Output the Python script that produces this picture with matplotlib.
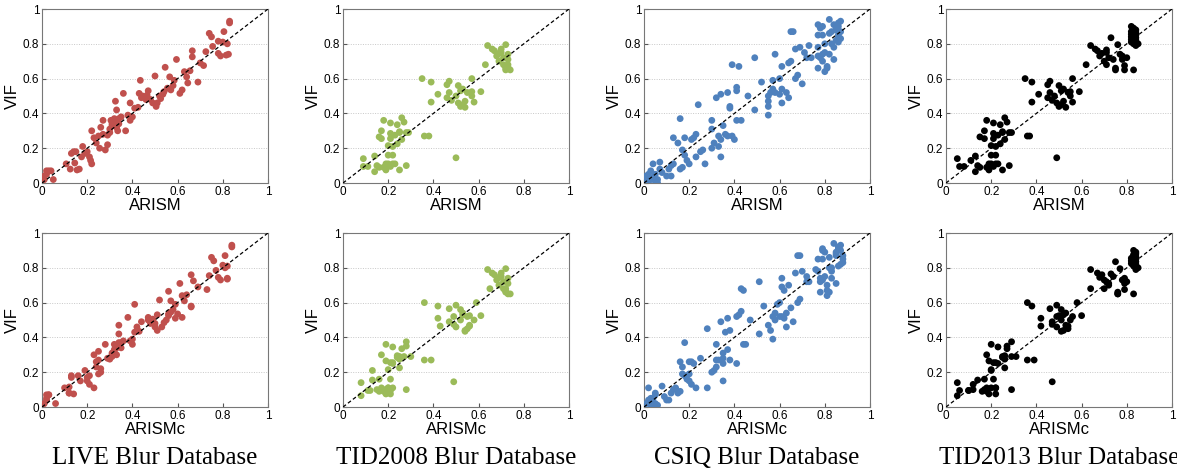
import matplotlib
matplotlib.use("Agg")
import matplotlib.pyplot as plt

# ---- data (VIF shared per database, two predictors) ----
live_vif = [0.00, 0.02, 0.04, 0.05, 0.07, 0.07, 0.07, 0.02,
            0.11, 0.08, 0.17, 0.18, 0.18, 0.115, 0.075, 0.08, 0.15, 0.21, 0.17, 0.18,
            0.15, 0.13, 0.11, 0.30, 0.26, 0.23, 0.27, 0.20, 0.32, 0.36, 0.28, 0.19,
            0.22, 0.275, 0.31, 0.36, 0.34, 0.37, 0.47, 0.42, 0.32, 0.30, 0.37, 0.38,
            0.515, 0.30, 0.39, 0.46, 0.36, 0.38, 0.43, 0.435, 0.59, 0.515, 0.49, 0.50,
            0.48, 0.505, 0.53, 0.48, 0.46, 0.615, 0.44, 0.46, 0.50, 0.485, 0.51, 0.525,
            0.665, 0.545, 0.61, 0.535, 0.56, 0.59, 0.71, 0.515, 0.535, 0.64, 0.61, 0.575,
            0.645, 0.725, 0.76, 0.58, 0.69, 0.675, 0.755, 0.86, 0.84, 0.785, 0.745, 0.815,
            0.73, 0.81, 0.87, 0.735, 0.80, 0.74, 0.93, 0.92, 0.35, 0.33, 0.29, 0.34]
live_arism = [0.00, 0.01, 0.01, 0.02, 0.02, 0.03, 0.04, 0.05,
              0.107, 0.125, 0.13, 0.14, 0.15, 0.145, 0.155, 0.165, 0.175, 0.18, 0.19, 0.20,
              0.21, 0.215, 0.22, 0.22, 0.23, 0.24, 0.25, 0.255, 0.26, 0.27, 0.27, 0.28,
              0.29, 0.29, 0.30, 0.305, 0.31, 0.32, 0.325, 0.33, 0.33, 0.335, 0.34, 0.35,
              0.36, 0.37, 0.38, 0.39, 0.39, 0.40, 0.41, 0.425, 0.435, 0.43, 0.44, 0.445,
              0.46, 0.465, 0.47, 0.48, 0.49, 0.50, 0.505, 0.51, 0.52, 0.525, 0.535, 0.54,
              0.545, 0.555, 0.565, 0.57, 0.58, 0.585, 0.595, 0.61, 0.62, 0.63, 0.64, 0.645,
              0.655, 0.665, 0.665, 0.69, 0.70, 0.715, 0.725, 0.74, 0.75, 0.755, 0.78, 0.78,
              0.79, 0.80, 0.805, 0.815, 0.82, 0.825, 0.83, 0.83, 0.32, 0.31, 0.30, 0.34]
live_arismc = [0.00, 0.01, 0.02, 0.02, 0.03, 0.03, 0.02, 0.06,
               0.10, 0.12, 0.13, 0.13, 0.16, 0.12, 0.14, 0.12, 0.17, 0.19, 0.20, 0.21,
               0.20, 0.21, 0.23, 0.23, 0.24, 0.24, 0.25, 0.26, 0.25, 0.28, 0.29, 0.25,
               0.26, 0.30, 0.31, 0.32, 0.33, 0.34, 0.34, 0.34, 0.32, 0.33, 0.35, 0.36,
               0.38, 0.31, 0.40, 0.42, 0.40, 0.39, 0.41, 0.43, 0.41, 0.47, 0.44, 0.47,
               0.50, 0.49, 0.51, 0.48, 0.50, 0.52, 0.51, 0.53, 0.55, 0.54, 0.59, 0.56,
               0.56, 0.57, 0.57, 0.56, 0.58, 0.59, 0.61, 0.62, 0.60, 0.62, 0.63, 0.66,
               0.64, 0.67, 0.66, 0.66, 0.69, 0.73, 0.74, 0.75, 0.76, 0.77, 0.78, 0.80,
               0.79, 0.82, 0.81, 0.82, 0.81, 0.82, 0.84, 0.84, 0.33, 0.32, 0.31, 0.35]

tid08_vif = [0.14, 0.095, 0.095, 0.155, 0.065, 0.10, 0.265, 0.09, 0.255, 0.30,
             0.36, 0.09, 0.11, 0.075, 0.215, 0.16, 0.11, 0.255, 0.345, 0.285,
             0.21, 0.11, 0.16, 0.275, 0.11, 0.225, 0.335, 0.295, 0.075, 0.29,
             0.25, 0.375, 0.35, 0.10, 0.29, 0.29, 0.10, 0.095,
             0.60, 0.27, 0.27, 0.58, 0.465, 0.51, 0.565, 0.49, 0.52, 0.585,
             0.475, 0.50, 0.145, 0.46, 0.56, 0.44, 0.53, 0.45, 0.54, 0.47,
             0.435, 0.52, 0.50, 0.525, 0.60, 0.465, 0.525,
             0.68, 0.79, 0.77, 0.76, 0.73, 0.745, 0.70, 0.77, 0.75, 0.72,
             0.68, 0.795, 0.66, 0.65, 0.74, 0.71, 0.68, 0.65, 0.665]
tid08_arism = [0.09, 0.09, 0.11, 0.14, 0.14, 0.15, 0.16, 0.16, 0.17, 0.17,
               0.18, 0.18, 0.19, 0.19, 0.20, 0.20, 0.20, 0.21, 0.21, 0.21,
               0.22, 0.22, 0.22, 0.23, 0.23, 0.24, 0.24, 0.25, 0.25, 0.25,
               0.26, 0.26, 0.27, 0.28, 0.28, 0.29, 0.19, 0.21,
               0.35, 0.36, 0.38, 0.39, 0.39, 0.42, 0.46, 0.46, 0.47, 0.47,
               0.48, 0.50, 0.50, 0.51, 0.51, 0.52, 0.52, 0.53, 0.53, 0.54,
               0.54, 0.55, 0.57, 0.57, 0.57, 0.58, 0.61,
               0.63, 0.64, 0.66, 0.67, 0.68, 0.69, 0.69, 0.70, 0.70, 0.71,
               0.71, 0.72, 0.72, 0.72, 0.73, 0.73, 0.73, 0.74, 0.73]
tid08_arismc = [0.08, 0.12, 0.11, 0.13, 0.08, 0.15, 0.19, 0.18, 0.21, 0.17,
                0.19, 0.16, 0.20, 0.19, 0.20, 0.16, 0.22, 0.22, 0.22, 0.24,
                0.13, 0.17, 0.21, 0.25, 0.20, 0.25, 0.26, 0.24, 0.21, 0.27,
                0.22, 0.28, 0.28, 0.28, 0.25, 0.30, 0.18, 0.21,
                0.36, 0.36, 0.39, 0.42, 0.43, 0.42, 0.47, 0.47, 0.49, 0.50,
                0.49, 0.52, 0.49, 0.50, 0.52, 0.54, 0.53, 0.55, 0.53, 0.56,
                0.54, 0.55, 0.58, 0.56, 0.59, 0.56, 0.61,
                0.65, 0.64, 0.66, 0.67, 0.68, 0.69, 0.69, 0.70, 0.70, 0.71,
                0.71, 0.72, 0.72, 0.73, 0.73, 0.73, 0.72, 0.74, 0.72]

csiq_vif = [0.00, 0.02, 0.04, 0.01, 0.05, 0.02, 0.07, 0.11, 0.03, 0.01,
            0.05, 0.02, 0.00, 0.12, 0.08, 0.06, 0.04, 0.08, 0.04, 0.10,
            0.26, 0.11, 0.23, 0.37, 0.08, 0.09, 0.19, 0.16, 0.26, 0.13,
            0.11, 0.25, 0.26, 0.28, 0.15, 0.45, 0.18, 0.19, 0.11, 0.36,
            0.20, 0.31, 0.23, 0.49, 0.27, 0.21, 0.51, 0.25, 0.15, 0.33,
            0.28, 0.27, 0.52, 0.43, 0.44, 0.27, 0.68, 0.25, 0.53, 0.55,
            0.36, 0.67, 0.36, 0.50, 0.72, 0.42, 0.58, 0.39, 0.44, 0.47,
            0.50, 0.52, 0.59, 0.54, 0.74, 0.52, 0.51, 0.60, 0.54, 0.46,
            0.67, 0.52, 0.69, 0.49, 0.70, 0.87, 0.87, 0.77, 0.60, 0.62,
            0.78, 0.57, 0.75, 0.72, 0.79, 0.72, 0.91, 0.85, 0.78, 0.73,
            0.66, 0.89, 0.72, 0.90, 0.85, 0.74, 0.70, 0.75, 0.64, 0.80,
            0.67, 0.66, 0.94, 0.86, 0.74, 0.87, 0.80, 0.78, 0.71, 0.91,
            0.88, 0.82, 0.92, 0.90, 0.85, 0.81, 0.93, 0.87, 0.83, 0.89]
csiq_arism = [0.00, 0.01, 0.01, 0.02, 0.02, 0.03, 0.03, 0.04, 0.04, 0.05,
              0.05, 0.06, 0.06, 0.07, 0.07, 0.08, 0.10, 0.11, 0.12, 0.12,
              0.13, 0.13, 0.15, 0.16, 0.16, 0.17, 0.17, 0.18, 0.18, 0.19,
              0.20, 0.21, 0.22, 0.23, 0.23, 0.24, 0.25, 0.26, 0.27, 0.30,
              0.30, 0.30, 0.31, 0.32, 0.33, 0.33, 0.34, 0.34, 0.34, 0.35,
              0.36, 0.37, 0.37, 0.38, 0.38, 0.39, 0.39, 0.40, 0.41, 0.41,
              0.41, 0.42, 0.43, 0.46, 0.49, 0.49, 0.52, 0.55, 0.55, 0.55,
              0.55, 0.56, 0.57, 0.57, 0.58, 0.58, 0.60, 0.60, 0.61, 0.61,
              0.61, 0.63, 0.64, 0.64, 0.65, 0.65, 0.66, 0.67, 0.67, 0.68,
              0.69, 0.70, 0.71, 0.72, 0.73, 0.74, 0.77, 0.77, 0.77, 0.77,
              0.77, 0.78, 0.78, 0.79, 0.79, 0.79, 0.79, 0.80, 0.80, 0.80,
              0.81, 0.81, 0.82, 0.82, 0.82, 0.83, 0.83, 0.84, 0.84, 0.84,
              0.85, 0.85, 0.86, 0.86, 0.86, 0.86, 0.87, 0.87, 0.87, 0.85]
csiq_arismc = [0.00, 0.01, 0.02, 0.03, 0.03, 0.04, 0.05, 0.02, 0.02, 0.06,
               0.04, 0.05, 0.04, 0.08, 0.05, 0.09, 0.11, 0.12, 0.10, 0.13,
               0.16, 0.14, 0.17, 0.18, 0.15, 0.16, 0.17, 0.19, 0.20, 0.21,
               0.23, 0.22, 0.21, 0.25, 0.20, 0.28, 0.18, 0.20, 0.28, 0.32,
               0.30, 0.35, 0.32, 0.34, 0.33, 0.31, 0.37, 0.35, 0.35, 0.37,
               0.35, 0.38, 0.41, 0.36, 0.38, 0.32, 0.43, 0.41, 0.42, 0.43,
               0.44, 0.44, 0.45, 0.47, 0.51, 0.51, 0.53, 0.57, 0.56, 0.55,
               0.58, 0.57, 0.59, 0.58, 0.61, 0.61, 0.62, 0.60, 0.63, 0.63,
               0.62, 0.60, 0.61, 0.66, 0.64, 0.68, 0.69, 0.67, 0.68, 0.69,
               0.70, 0.65, 0.72, 0.72, 0.76, 0.73, 0.79, 0.77, 0.77, 0.79,
               0.78, 0.80, 0.78, 0.79, 0.79, 0.78, 0.81, 0.80, 0.81, 0.83,
               0.81, 0.82, 0.84, 0.82, 0.83, 0.85, 0.82, 0.83, 0.85, 0.86,
               0.85, 0.87, 0.86, 0.87, 0.88, 0.86, 0.87, 0.88, 0.88, 0.85]

tid13_vif = [0.14, 0.095, 0.095, 0.13, 0.155, 0.065, 0.10, 0.265, 0.09, 0.255,
             0.30, 0.36, 0.09, 0.11, 0.075, 0.215, 0.16, 0.11, 0.255, 0.345,
             0.285, 0.21, 0.11, 0.16, 0.275, 0.11, 0.225, 0.335, 0.295, 0.075,
             0.29, 0.25, 0.375, 0.35, 0.10, 0.29, 0.29, 0.10, 0.095,
             0.60, 0.27, 0.27, 0.58, 0.465, 0.51, 0.565, 0.49, 0.52, 0.585,
             0.475, 0.50, 0.145, 0.46, 0.56, 0.44, 0.53, 0.45, 0.54, 0.47,
             0.435, 0.52, 0.50, 0.525, 0.60, 0.465, 0.525,
             0.68, 0.79, 0.77, 0.76, 0.73, 0.745, 0.70, 0.765, 0.75, 0.72,
             0.68, 0.835, 0.66, 0.65, 0.795, 0.74, 0.71, 0.65, 0.73, 0.675,
             0.72, 0.65, 0.71,
             0.90, 0.89, 0.88, 0.87, 0.86, 0.85, 0.84, 0.83, 0.82, 0.81,
             0.80, 0.79, 0.80, 0.875, 0.865, 0.855, 0.845, 0.835, 0.815, 0.825]
tid13_arism = [0.05, 0.06, 0.08, 0.11, 0.13, 0.13, 0.14, 0.15, 0.15, 0.17,
               0.17, 0.18, 0.18, 0.19, 0.19, 0.20, 0.20, 0.20, 0.21, 0.21,
               0.21, 0.22, 0.22, 0.22, 0.23, 0.23, 0.24, 0.24, 0.25, 0.25,
               0.25, 0.26, 0.26, 0.27, 0.28, 0.28, 0.29, 0.19, 0.21,
               0.35, 0.36, 0.37, 0.38, 0.38, 0.41, 0.45, 0.45, 0.46, 0.46,
               0.47, 0.48, 0.49, 0.49, 0.50, 0.50, 0.51, 0.51, 0.52, 0.52,
               0.53, 0.54, 0.55, 0.55, 0.56, 0.56, 0.59,
               0.62, 0.64, 0.66, 0.67, 0.68, 0.69, 0.70, 0.71, 0.71, 0.72,
               0.71, 0.73, 0.75, 0.75, 0.76, 0.77, 0.78, 0.79, 0.78, 0.79,
               0.80, 0.83, 0.74,
               0.82, 0.83, 0.84, 0.82, 0.83, 0.84, 0.82, 0.83, 0.84, 0.82,
               0.83, 0.84, 0.85, 0.83, 0.84, 0.82, 0.83, 0.84, 0.83, 0.82]
tid13_arismc = [0.05, 0.06, 0.10, 0.12, 0.14, 0.05, 0.12, 0.19, 0.18, 0.21,
                0.18, 0.20, 0.16, 0.20, 0.19, 0.20, 0.17, 0.22, 0.22, 0.23,
                0.25, 0.20, 0.18, 0.21, 0.26, 0.22, 0.26, 0.27, 0.26, 0.22,
                0.29, 0.23, 0.29, 0.27, 0.29, 0.25, 0.31, 0.17, 0.10,
                0.36, 0.36, 0.39, 0.38, 0.42, 0.42, 0.46, 0.47, 0.49, 0.49,
                0.47, 0.51, 0.47, 0.49, 0.51, 0.52, 0.52, 0.54, 0.53, 0.53,
                0.51, 0.56, 0.55, 0.50, 0.58, 0.54, 0.60,
                0.64, 0.64, 0.67, 0.69, 0.70, 0.68, 0.72, 0.73, 0.74, 0.71,
                0.70, 0.75, 0.76, 0.76, 0.77, 0.79, 0.79, 0.76, 0.78, 0.79,
                0.80, 0.83, 0.72,
                0.83, 0.84, 0.84, 0.83, 0.83, 0.84, 0.82, 0.83, 0.84, 0.83,
                0.84, 0.84, 0.85, 0.83, 0.84, 0.82, 0.83, 0.84, 0.83, 0.82]

databases = ["LIVE Blur Database", "TID2008 Blur Database",
             "CSIQ Blur Database", "TID2013 Blur Database"]
vifs = [live_vif, tid08_vif, csiq_vif, tid13_vif]
arism = [live_arism, tid08_arism, csiq_arism, tid13_arism]
arismc = [live_arismc, tid08_arismc, csiq_arismc, tid13_arismc]
colors = ["#c0504d", "#9bbb59", "#4f81bd", "#000000"]
ticks = [0, 0.2, 0.4, 0.6, 0.8, 1]
tick_labels = ["0", "0.2", "0.4", "0.6", "0.8", "1"]

plt.rcParams["font.family"] = ["Liberation Sans", "DejaVu Sans"]

fig = plt.figure(figsize=(11.77, 4.75), dpi=100)
lefts = [42, 343, 644, 946]
W, H = 1177.0, 475.0


def draw(ax, x, y, color, xlabel):
    ax.yaxis.grid(True, linestyle=(0, (1, 1.5)), color="#c8c8c8", linewidth=0.7)
    ax.set_axisbelow(True)
    ax.scatter(x, y, s=24, color=color, edgecolors="none", zorder=3)
    ax.plot([0, 1], [0, 1], "k--", linewidth=0.9, dashes=(3, 2), zorder=4)
    ax.set_xlim(0, 1)
    ax.set_ylim(0, 1)
    ax.set_xticks(ticks)
    ax.set_yticks(ticks)
    ax.set_xticklabels(tick_labels)
    ax.set_yticklabels(tick_labels)
    ax.tick_params(direction="in", length=3, labelsize=8.5, pad=2, color="#555555")
    for sp in ax.spines.values():
        sp.set_color("#777777")
        sp.set_linewidth(0.8)
    ax.set_xlabel(xlabel, fontsize=12, labelpad=0)
    ax.set_ylabel("VIF", fontsize=12, labelpad=2)


for i in range(4):
    ax_top = fig.add_axes([lefts[i] / W, (H - 183) / H, 226 / W, 174 / H])
    draw(ax_top, arism[i], vifs[i], colors[i], "ARISM")
    ax_bot = fig.add_axes([lefts[i] / W, (H - 407) / H, 226 / W, 174 / H])
    draw(ax_bot, arismc[i], vifs[i], colors[i], "ARISMc")
    cx = (lefts[i] + 113) / W
    fig.text(cx, (H - 458) / H, databases[i], ha="center", va="center",
             fontsize=18, family=["Liberation Serif", "DejaVu Serif"])

fig.savefig("out.png", dpi=100)
